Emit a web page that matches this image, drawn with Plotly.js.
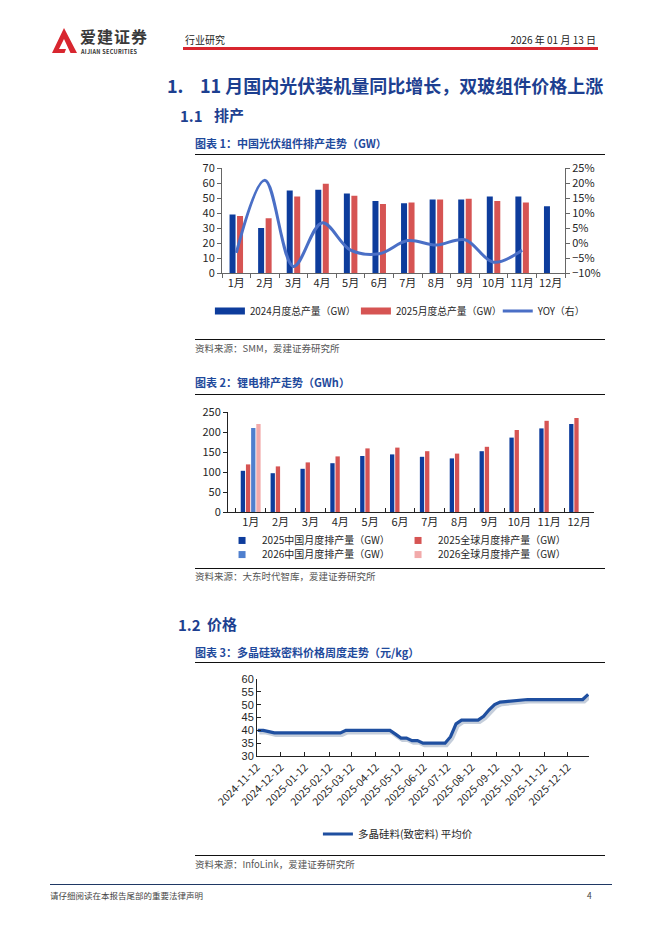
<!DOCTYPE html>
<html><head><meta charset="utf-8">
<script src="https://cdn.plot.ly/plotly-3.0.1.min.js"></script>
<style>
body{margin:0;width:662px;height:936px;background:#fff;position:relative;font-family:"Noto Sans CJK SC","Noto Sans",sans-serif;overflow:hidden}
.t{position:absolute;white-space:nowrap;line-height:1}
.rule{position:absolute;left:195px;width:410px;height:1px;background:#111}
.h1{color:#1d3f90;font-weight:bold;font-size:18px}
.h2{color:#1d3f90;font-weight:bold;font-size:15px}
.ft{color:#1f4a9c;font-weight:bold;font-size:11px}
.src{color:#555;font-size:9.5px}
.chart{position:absolute}
</style></head><body>

<svg style="position:absolute;left:52px;top:28px" width="26" height="25" viewBox="0 0 26 25">
  <path d="M12 0 L25 25 L18.5 25 L12 11 L7 21 L14 21 L12.5 25 L0 25 Z" fill="#d8262f"/>
</svg>
<div class="t" style="left:80px;top:28px;font-size:16px;font-weight:bold;color:#3a3a3a;letter-spacing:1px">爱建证券</div>
<div class="t" style="left:81px;top:50px;font-size:5.5px;font-weight:bold;color:#333;letter-spacing:0.3px">AIJIAN SECURITIES</div>
<div class="t" style="left:185px;top:35px;font-size:10px;color:#222">行业研究</div>
<div class="t" style="right:66px;top:35px;font-size:10px;color:#222">2026 年 01 月 13 日</div>
<div style="position:absolute;left:183px;top:47px;width:415px;height:3px;background:#d8262f"></div>

<div class="t h1" style="left:167px;top:76px">1.</div>
<div class="t h1" style="left:200px;top:76px">11 月国内光伏装机量同比增长，双玻组件价格上涨</div>
<div class="t h2" style="left:180px;top:108px">1.1</div>
<div class="t h2" style="left:214px;top:107px">排产</div>

<div class="t ft" style="left:195px;top:138px">图表 1：中国光伏组件排产走势（GW）</div>
<div class="rule" style="top:154px"></div>
<div id="c1" class="chart" style="left:60px;top:155px;width:570px;height:175px"></div>
<div class="rule" style="top:339px"></div>
<div class="t src" style="left:195px;top:344px">资料来源：SMM，爱建证券研究所</div>

<div class="t ft" style="left:195px;top:377px">图表 2：锂电排产走势（GWh）</div>
<div class="rule" style="top:394px"></div>
<div id="c2" class="chart" style="left:160px;top:398px;width:470px;height:170px"></div>
<div class="rule" style="top:568px"></div>
<div class="t src" style="left:195px;top:572px">资料来源：大东时代智库，爱建证券研究所</div>

<div class="t h2" style="left:178px;top:617px">1.2</div>
<div class="t h2" style="left:207px;top:616px">价格</div>
<div class="t ft" style="left:195px;top:647px">图表 3：多晶硅致密料价格周度走势（元/kg）</div>
<div class="rule" style="top:662px"></div>
<div id="c3" class="chart" style="left:160px;top:668px;width:470px;height:185px"></div>
<div class="rule" style="top:855px"></div>
<div class="t src" style="left:195px;top:860px">资料来源：InfoLink，爱建证券研究所</div>

<div style="position:absolute;left:50px;top:884px;width:562px;height:1.3px;background:#1f3864"></div>
<div class="t" style="left:50px;top:891px;font-size:8.5px;color:#444">请仔细阅读在本报告尾部的重要法律声明</div>
<div class="t" style="left:587px;top:891px;font-size:8.5px;color:#444">4</div>

<script>
// ---------- Chart 1 data ----------
const pvMonths = ['1月','2月','3月','4月','5月','6月','7月','8月','9月','10月','11月','12月'];
const pv2024 = [39,30,55,55.5,53,48,46.5,49,49,51,51,44.5];
const pv2025 = [38,36.5,51,59.5,51.5,46,47,49,49.5,48,47,null];
const pvYoy = [-0.033,0.209,-0.078,0.067,-0.024,-0.036,0.008,-0.007,0.011,-0.064,-0.024,null];
const pvNames = ['2024月度总产量（GW）','2025月度总产量（GW）','YOY（右）'];

// ---------- Chart 2 data ----------
const liMonths = ['1月','2月','3月','4月','5月','6月','7月','8月','9月','10月','11月','12月'];
const liCn2025 = [103,97,108,122,140,144,138,134,152,186,209,220];
const liGl2025 = [119,114,124,139,159,161,152,146,163,205,228,235];
const liCn2026 = [210,null,null,null,null,null,null,null,null,null,null,null];
const liGl2026 = [220,null,null,null,null,null,null,null,null,null,null,null];
const liNames = ['2025中国月度排产量（GW）','2025全球月度排产量（GW）','2026中国月度排产量（GW）','2026全球月度排产量（GW）'];

// ---------- Chart 3 data ----------
const siDates = ['2024-11-13','2024-11-20','2024-11-27','2024-12-04','2024-12-11','2024-12-18','2024-12-25',
 '2025-01-01','2025-01-08','2025-01-15','2025-01-22','2025-01-29','2025-02-05','2025-02-12','2025-02-19','2025-02-26',
 '2025-03-05','2025-03-12','2025-03-19','2025-03-26','2025-04-02','2025-04-09','2025-04-16','2025-04-23','2025-04-30',
 '2025-05-07','2025-05-14','2025-05-21','2025-05-28','2025-06-04','2025-06-11','2025-06-18','2025-06-25',
 '2025-07-02','2025-07-09','2025-07-16','2025-07-23','2025-07-30','2025-08-06','2025-08-13','2025-08-20','2025-08-27',
 '2025-09-03','2025-09-10','2025-09-17','2025-09-24','2025-10-01','2025-10-08','2025-10-15','2025-10-22','2025-10-29',
 '2025-11-05','2025-11-12','2025-11-19','2025-11-26','2025-12-03','2025-12-10','2025-12-17','2025-12-24','2025-12-31',
 '2026-01-07'];
const siPrice = [40,40,39.5,39,39,39,39,
 39,39,39,39,39,39,39,39,39,
 40,40,40,40,40,40,40,40,40,
 38.5,37,37,36,36,35,35,35,
 35,35,37.5,42.5,44,44,44,44,45.5,
 48,50,51,51.2,51.4,51.7,52,52,52,
 52,52,52,52,52,52,52,52,52,
 54];
const siName = '多晶硅料(致密料) 平均价';

const FONT = '"Noto Sans CJK SC","Noto Sans",sans-serif';
const TXT = '#262626';
const cfg = {staticPlot:true, displayModeBar:false};
const BLUE = '#0d3c9c', RED = '#d65453', LBLUE = '#4f7fce', PINK = '#f2aaaa';

// ---------- Chart 1 ----------
Plotly.newPlot('c1', [
  {type:'bar', x:pvMonths, y:pv2024, marker:{color:BLUE}, showlegend:false},
  {type:'bar', x:pvMonths, y:pv2025, marker:{color:RED}, showlegend:false},
  {type:'scatter', mode:'lines', x:pvMonths, y:pvYoy, yaxis:'y2', name:pvNames[2],
   line:{color:'#4a6fc6', width:3, shape:'spline', smoothing:1}, legend:'legend2'},
  {type:'scatter', mode:'lines', x:[pvMonths[0]], y:[null], name:pvNames[0], line:{color:BLUE, width:7}, legendrank:1, legend:'legend'},
  {type:'scatter', mode:'lines', x:[pvMonths[0]], y:[null], name:pvNames[1], line:{color:RED, width:7}, legendrank:2, legend:'legend'}
], {
  width:570, height:175, margin:{l:162, r:65, t:13, b:57},
  paper_bgcolor:'rgba(0,0,0,0)', plot_bgcolor:'rgba(0,0,0,0)',
  font:{family:FONT, size:11, color:TXT},
  barmode:'group', bargap:0.475, bargroupgap:0.2,
  xaxis:{type:'category', tickson:'boundaries', ticks:'outside', ticklen:4, tickcolor:'#666', tickangle:0,
         automargin:false, showline:true, linecolor:'#666', showgrid:false, zeroline:false},
  yaxis:{range:[0,70], dtick:10, ticks:'outside', ticklen:4, tickcolor:'#666', showline:true, linecolor:'#666',
         automargin:false, showgrid:false, zeroline:false},
  yaxis2:{overlaying:'y', side:'right', range:[-0.1,0.25], dtick:0.05, tickformat:'.0%', ticks:'outside',
          automargin:false, ticklen:4, tickcolor:'#666', showline:true, linecolor:'#666', showgrid:false, zeroline:false},
  legend:{orientation:'h', xref:'container', yref:'container', x:0.263, xanchor:'left', y:0.1086, yanchor:'middle',
          entrywidth:101, font:{size:9.8, color:TXT}, bgcolor:'rgba(0,0,0,0)'},
  legend2:{orientation:'h', xref:'container', yref:'container', x:0.768, xanchor:'left', y:0.1086, yanchor:'middle',
          font:{size:9.8, color:TXT}, bgcolor:'rgba(0,0,0,0)'}
}, cfg);

// ---------- Chart 2 ----------
Plotly.newPlot('c2', [
  {type:'bar', x:liMonths, y:liCn2025, marker:{color:BLUE}, showlegend:false},
  {type:'bar', x:liMonths, y:liGl2025, marker:{color:RED}, showlegend:false},
  {type:'bar', x:liMonths, y:liCn2026, marker:{color:LBLUE}, showlegend:false},
  {type:'bar', x:liMonths, y:liGl2026, marker:{color:PINK}, showlegend:false},
  {type:'scatter', mode:'markers', x:[liMonths[0]], y:[null], name:liNames[0], marker:{color:BLUE, symbol:'square', size:7}, legend:'legend'},
  {type:'scatter', mode:'markers', x:[liMonths[0]], y:[null], name:liNames[1], marker:{color:RED, symbol:'square', size:7}, legend:'legend'},
  {type:'scatter', mode:'markers', x:[liMonths[0]], y:[null], name:liNames[2], marker:{color:LBLUE, symbol:'square', size:7}, legend:'legend2'},
  {type:'scatter', mode:'markers', x:[liMonths[0]], y:[null], name:liNames[3], marker:{color:PINK, symbol:'square', size:7}, legend:'legend2'}
], {
  width:470, height:170, margin:{l:68, r:36, t:14, b:56},
  paper_bgcolor:'rgba(0,0,0,0)', plot_bgcolor:'rgba(0,0,0,0)',
  font:{family:FONT, size:11, color:TXT},
  barmode:'group', bargap:0.305, bargroupgap:0.17,
  xaxis:{type:'category', tickson:'boundaries', ticks:'inside', ticklen:4, tickcolor:'#222', tickangle:0,
         automargin:false, showline:true, linecolor:'#222', showgrid:false, zeroline:false},
  yaxis:{range:[0,250], dtick:50, ticks:'outside', ticklen:4, tickcolor:'#222', showline:true, linecolor:'#222',
         automargin:false, showgrid:false, zeroline:false},
  legend:{orientation:'h', xref:'container', yref:'container', x:0.132, xanchor:'left', y:0.162, yanchor:'middle',
          entrywidth:131, font:{size:10, color:TXT}, bgcolor:'rgba(0,0,0,0)'},
  legend2:{orientation:'h', xref:'container', yref:'container', x:0.132, xanchor:'left', y:0.079, yanchor:'middle',
          entrywidth:131, font:{size:10, color:TXT}, bgcolor:'rgba(0,0,0,0)'}
}, cfg);

// ---------- Chart 3 ----------
Plotly.newPlot('c3', [
  {type:'scatter', mode:'lines', x:siDates, y:siPrice, xaxis:'x', yaxis:'y', showlegend:false,
   line:{color:'rgba(150,165,190,0.55)', width:4}, hoverinfo:'skip'},
  {type:'scatter', mode:'lines', x:siDates, y:siPrice, xaxis:'x2', yaxis:'y2', name:siName,
   line:{color:'#1f4fa0', width:3.2}}
], {
  width:470, height:185, margin:{l:97, r:41, t:11, b:97},
  paper_bgcolor:'rgba(0,0,0,0)', plot_bgcolor:'rgba(0,0,0,0)',
  font:{family:FONT, size:10, color:TXT},
  xaxis:{type:'date', range:['2024-11-10','2026-01-06'], visible:false},
  yaxis:{range:[30.8,60.8], visible:false},
  xaxis2:{type:'date', overlaying:'x', side:'bottom', range:['2024-11-12','2026-01-08'], tick0:'2024-11-12', dtick:'M1',
          tickformat:'%Y-%m-%d', tickangle:-45, ticks:'inside', ticklen:4, tickcolor:'#222', automargin:false,
          tickfont:{size:10.5}, showline:true, linecolor:'#222', showgrid:false, zeroline:false},
  yaxis2:{overlaying:'y', side:'left', range:[30,60], dtick:5, ticks:'inside', ticklen:4, tickcolor:'#222',
          tickfont:{family:'"Liberation Sans","DejaVu Sans",sans-serif', size:11},
          automargin:false, showline:true, linecolor:'#222', showgrid:false, zeroline:false},
  legend:{orientation:'h', xref:'container', yref:'container', x:0.336, xanchor:'left', y:0.1027, yanchor:'middle',
          font:{size:10.5, color:TXT}, bgcolor:'rgba(0,0,0,0)'}
}, cfg);
</script>
</body></html>
